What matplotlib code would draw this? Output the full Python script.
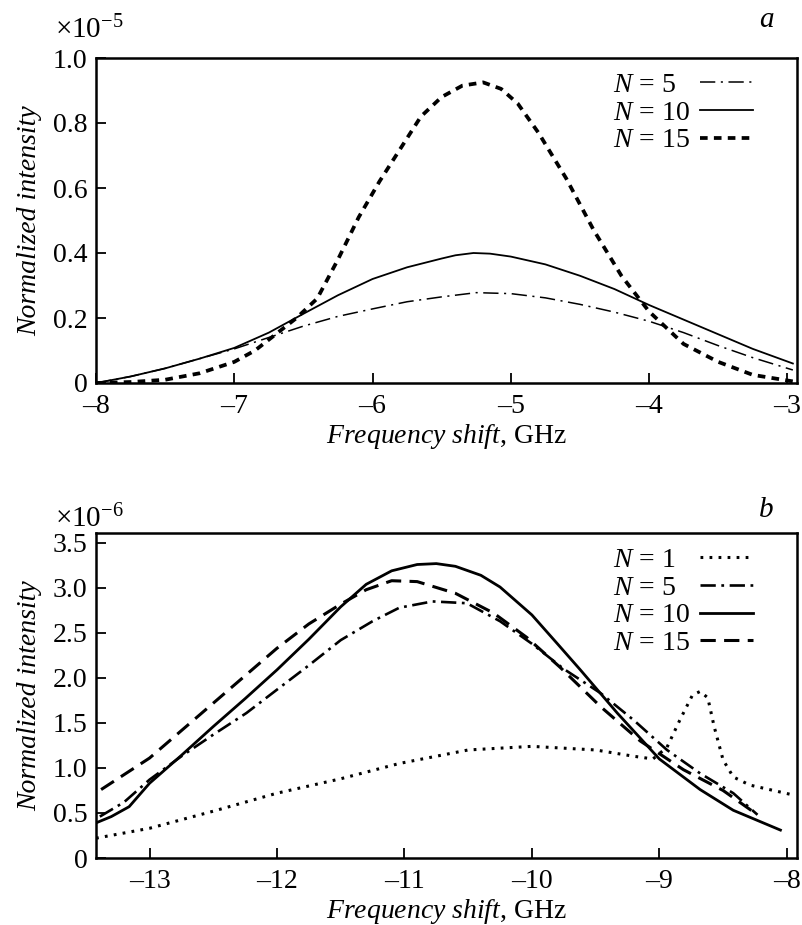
import numpy as np
import matplotlib
matplotlib.use('Agg')
import matplotlib.pyplot as plt
from matplotlib.ticker import FuncFormatter

plt.rcParams['font.family'] = 'Liberation Serif'
plt.rcParams['mathtext.fontset'] = 'custom'
plt.rcParams['mathtext.rm'] = 'Liberation Serif'
plt.rcParams['mathtext.it'] = 'Liberation Serif:italic'
plt.rcParams['lines.scale_dashes'] = False

# panel a data (intensity in units of 1e-5)
xa_10 = [-8, -7.75, -7.5, -7.25, -7.0, -6.75, -6.5, -6.25, -6.0, -5.75, -5.5, -5.4, -5.27,
         -5.15, -5.0, -4.75, -4.5, -4.25, -4.0, -3.75, -3.5, -3.25, -2.96]
ya_10 = [0, 0.02, 0.045, 0.075, 0.108, 0.155, 0.213, 0.27, 0.32, 0.356, 0.383, 0.393, 0.40,
         0.398, 0.389, 0.365, 0.33, 0.289, 0.24, 0.195, 0.15, 0.105, 0.06]
xa_5 = [-8, -7.75, -7.5, -7.25, -7.0, -6.75, -6.5, -6.25, -6.0, -5.75, -5.5, -5.25,
        -5.0, -4.75, -4.5, -4.25, -4.0, -3.75, -3.5, -3.25, -2.96]
ya_5 = [0, 0.02, 0.045, 0.075, 0.105, 0.14, 0.175, 0.205, 0.228, 0.25, 0.265, 0.278,
        0.275, 0.262, 0.242, 0.218, 0.19, 0.155, 0.115, 0.078, 0.04]
xa_15 = [-8, -7.75, -7.5, -7.25, -7.0, -6.85, -6.7, -6.55, -6.4, -6.25, -6.1, -5.95, -5.8,
         -5.65, -5.5, -5.35, -5.2, -5.07, -4.95, -4.8, -4.6, -4.4, -4.2, -4.0,
         -3.75, -3.5, -3.25, -2.96]
ya_15 = [0, 0.003, 0.01, 0.03, 0.065, 0.1, 0.15, 0.2, 0.26, 0.38, 0.51, 0.62, 0.72,
         0.82, 0.88, 0.915, 0.925, 0.905, 0.86, 0.77, 0.63, 0.47, 0.33, 0.22,
         0.12, 0.065, 0.025, 0.005]

# panel b data (intensity in units of 1e-6)
xb_1 = [-13.42, -13.0, -12.5, -12.0, -11.5, -11.04, -10.5, -10.0, -9.5, -9.2, -9.05,
        -8.94, -8.84, -8.74, -8.68, -8.62, -8.57, -8.5, -8.42, -8.29, -7.95]
yb_1 = [0.22, 0.33, 0.52, 0.72, 0.88, 1.05, 1.2, 1.24, 1.2, 1.13, 1.1,
        1.23, 1.53, 1.81, 1.85, 1.78, 1.46, 1.09, 0.9, 0.81, 0.7]
xb_5 = [-13.39, -13.2, -13.0, -12.75, -12.5, -12.24, -12.0, -11.75, -11.5, -11.25, -11.04,
        -10.78, -10.51, -10.25, -10.0, -9.75, -9.46, -9.2, -8.94, -8.68, -8.42, -8.23]
yb_5 = [0.46, 0.62, 0.87, 1.13, 1.37, 1.61, 1.87, 2.14, 2.42, 2.63, 2.78,
        2.85, 2.83, 2.63, 2.38, 2.1, 1.83, 1.53, 1.2, 0.94, 0.72, 0.48]
xb_10 = [-13.42, -13.3, -13.16, -13.0, -12.75, -12.5, -12.25, -12.0, -11.75, -11.5, -11.3,
         -11.1, -10.9, -10.75, -10.6, -10.4, -10.25, -10.0, -9.8, -9.62, -9.33, -9.0,
         -8.68, -8.42, -8.05]
yb_10 = [0.39, 0.46, 0.57, 0.83, 1.14, 1.46, 1.77, 2.09, 2.43, 2.79, 3.04,
         3.19, 3.26, 3.27, 3.24, 3.14, 3.01, 2.7, 2.38, 2.09, 1.61, 1.1,
         0.76, 0.53, 0.31]
xb_15 = [-13.38, -13.0, -12.5, -12.0, -11.75, -11.5, -11.3, -11.1, -10.9, -10.6, -10.3,
         -10.04, -9.78, -9.46, -9.15, -8.81, -8.5, -8.25]
yb_15 = [0.76, 1.11, 1.72, 2.33, 2.6, 2.82, 2.98, 3.08, 3.07, 2.94, 2.72,
         2.45, 2.12, 1.68, 1.3, 0.98, 0.75, 0.5]

fig = plt.figure(figsize=(8.02, 9.25), dpi=100)
ax1 = fig.add_axes([96/802, 1-383/925, 701/802, 325/925])
ax2 = fig.add_axes([96/802, 1-858/925, 701/802, 325/925])

fmt = FuncFormatter(lambda v, p: '0' if abs(v) < 1e-9 else f'{v:.1f}'.replace('-', '\u2013'))
xfmt = FuncFormatter(lambda v, p: f'{v:.0f}'.replace('-', '\u2013'))

# panel a
ax1.plot(xa_5, ya_5, color='black', lw=1.1, dashes=(11, 4, 1.5, 4), label='$N$ = 5')
ax1.plot(xa_10, ya_10, color='black', lw=1.3, label='$N$ = 10')
ax1.plot(xa_15, ya_15, color='black', lw=2.7, dashes=(5.5, 4.5), label='$N$ = 15')
ax1.set_xlim(-8, -2.93)
ax1.set_ylim(0, 1.0)
ax1.set_xticks([-8, -7, -6, -5, -4, -3])
ax1.set_yticks([0, 0.2, 0.4, 0.6, 0.8, 1.0])
ax1.text(-0.059, 1.06, r'$\times 10^{-5}$', transform=ax1.transAxes, fontsize=21,
         va='baseline')
ax1.text(0.946, 1.095, 'a', transform=ax1.transAxes, fontsize=21, style='italic',
         va='baseline')

# panel b
ax2.plot(xb_1, yb_1, color='black', lw=2.2, dashes=(2, 4.5), label='$N$ = 1')
ax2.plot(xb_5, yb_5, color='black', lw=1.9, dashes=(11, 4, 2, 4), label='$N$ = 5')
ax2.plot(xb_10, yb_10, color='black', lw=2.0, label='$N$ = 10')
ax2.plot(xb_15, yb_15, color='black', lw=2.2, dashes=(11, 6), label='$N$ = 15')
ax2.set_xlim(-13.42, -7.92)
ax2.set_ylim(0, 3.61)
ax2.set_xticks([-13, -12, -11, -10, -9, -8])
ax2.set_yticks([0, 0.5, 1.0, 1.5, 2.0, 2.5, 3.0, 3.5])
ax2.text(-0.059, 1.018, r'$\times 10^{-6}$', transform=ax2.transAxes, fontsize=21,
         va='baseline')
ax2.text(0.946, 1.05, 'b', transform=ax2.transAxes, fontsize=21, style='italic',
         va='baseline')

leg_kw = dict(frameon=False, fontsize=20, labelspacing=0.08, borderpad=0, borderaxespad=0)

for ax in (ax1, ax2):
    ax.xaxis.set_major_formatter(xfmt)
    ax.yaxis.set_major_formatter(fmt)
    ax.tick_params(direction='in', length=7, width=1.3, labelsize=20, pad=6,
                   top=False, right=False)
    ax.tick_params(axis='x', pad=8)
    for s in ax.spines.values():
        s.set_linewidth(1.8)
    ax.set_xlabel(r'$\mathit{Frequency\ shift}$, GHz', fontsize=20, labelpad=2)
    ax.set_ylabel('Normalized intensity', fontsize=20, style='italic', labelpad=8)

    # line samples on the right, label text left aligned in a second legend
    handles, labels = ax.get_legend_handles_labels()
    leg_h = ax.legend(handles, [''] * len(handles), loc='upper right',
                      markerfirst=False, handlelength=1.9, handletextpad=0,
                      bbox_to_anchor=(0.937, 0.955), **leg_kw)
    ax.add_artist(leg_h)
    leg_t = ax.legend(handles, labels, loc='upper left', handlelength=0, handletextpad=0,
                      bbox_to_anchor=(0.738, 0.955), **leg_kw)
    for h in leg_t.legend_handles:
        h.set_visible(False)

fig.savefig('out.png', dpi=100)
